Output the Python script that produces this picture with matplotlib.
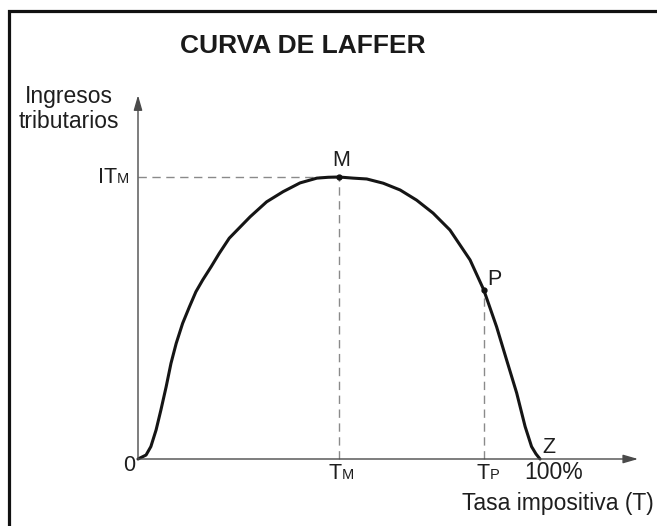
import matplotlib
matplotlib.use("Agg")
import matplotlib.pyplot as plt
from matplotlib.patches import Rectangle

plt.rcParams['font.family'] = ['Liberation Sans', 'DejaVu Sans']

# ---- data (tax rate in %, tax revenue with IT_M = 100) ----
tasa = [0, 2.0, 3.2, 4.5, 5.7, 7.0, 8.2, 9.5, 11.1, 12.8, 14.4, 16.1, 18.2,
        20.2, 22.7, 27.9, 32.0, 36.1, 40.3, 44.5, 47.3, 50.0, 53.5, 56.9,
        61.0, 65.2, 69.3, 73.4, 77.6, 82.6, 86.0, 89.2, 91.7, 94.2, 96.3,
        97.9, 99.0, 100.0]
ingresos = [0, 1.4, 4.4, 10.3, 17.4, 25.6, 33.9, 41.0, 48.1, 54.0, 59.3, 63.5,
            68.2, 72.9, 78.3, 85.9, 91.2, 94.8, 97.9, 99.6, 99.9, 100.0, 99.6,
            99.3, 97.8, 95.4, 91.8, 87.2, 81.2, 70.6, 60.0, 46.9, 35.1, 23.4,
            11.5, 4.4, 1.8, 0.0]
T_M, IT_M = 50.0, 100.0
T_P, IT_P = 86.0, 60.0
T_MAX = 100.0
X_END, Y_END = 124.4, 129.0

title = "CURVA DE LAFFER"
ylabel_lines = ["Ingresos", "tributarios"]
xlabel = "Tasa impositiva (T)"

# ---- figure geometry ----
W, H, DPI = 657, 526, 100
PX_X0, PX_Y0 = 138, 459
SX, SY = 4.02, 2.82

fig = plt.figure(figsize=(W / DPI, H / DPI), dpi=DPI)
ax = fig.add_axes([0, 0, 1, 1])
ax.set_xlim(-PX_X0 / SX, (W - PX_X0) / SX)
ax.set_ylim(-(H - PX_Y0) / SY, PX_Y0 / SY)
ax.axis('off')

def off(dx, dy):
    return (dx * 72 / DPI, dy * 72 / DPI)

TXT = '#1e1e1e'
AX_C = '#4a4a4a'
DASH_C = '#8a8a8a'
FS_BIG = 16.5
FS_LBL = 15.5
FS_SUB = 10.5

# border (only top and left visible)
fig.patches.append(Rectangle((9 / W, -0.5), 2.0, 1.5 - 11 / H,
                             transform=fig.transFigure, fill=False,
                             lw=2.3, ec='#111111', clip_on=False))

# axes with arrows
arrow = dict(arrowstyle='-|>,head_length=0.9,head_width=0.26', lw=1.0,
             color=AX_C, shrinkA=0, shrinkB=0, mutation_scale=10)
ax.annotate('', xy=(X_END, 0), xytext=(0, 0), arrowprops=arrow)
ax.annotate('', xy=(0, Y_END), xytext=(0, 0), arrowprops=arrow)

# dashed guides
dash = dict(color=DASH_C, lw=1.0, linestyle=(0, (6, 4)))
ax.plot([0, T_M], [IT_M, IT_M], **dash)
ax.plot([T_M, T_M], [0, IT_M], **dash)
ax.plot([T_P, T_P], [0, IT_P], **dash)

# curve
ax.plot(tasa, ingresos, color='#151515', lw=2.2, solid_joinstyle='round',
        solid_capstyle='round')
ax.plot([T_M, T_P], [IT_M, IT_P], 'o', color='#111111', ms=3.5)

# point labels
ax.annotate('M', xy=(T_M, IT_M), xytext=off(2.5, 10.5), textcoords='offset points',
            ha='center', va='baseline', fontsize=FS_LBL, color=TXT)
ax.annotate('P', xy=(T_P, IT_P), xytext=off(4, 5), textcoords='offset points',
            ha='left', va='baseline', fontsize=FS_LBL, color=TXT)
ax.annotate('Z', xy=(T_MAX, 0), xytext=off(2, 6), textcoords='offset points',
            ha='left', va='baseline', fontsize=FS_LBL, color=TXT)
ax.annotate('0', xy=(0, 0), xytext=off(-3, -12), textcoords='offset points',
            ha='right', va='baseline', fontsize=FS_LBL, color=TXT)

# IT_M
ax.annotate('IT', xy=(0, IT_M), xytext=off(-21, -6), textcoords='offset points',
            ha='right', va='baseline', fontsize=FS_LBL, color=TXT)
ax.annotate('M', xy=(0, IT_M), xytext=off(-21, -6), textcoords='offset points',
            ha='left', va='baseline', fontsize=FS_SUB, color=TXT)
# T_M
ax.annotate('T', xy=(T_M, 0), xytext=off(3, -20), textcoords='offset points',
            ha='right', va='baseline', fontsize=FS_LBL, color=TXT)
ax.annotate('M', xy=(T_M, 0), xytext=off(3, -20), textcoords='offset points',
            ha='left', va='baseline', fontsize=FS_SUB, color=TXT)
# T_P
ax.annotate('T', xy=(T_P, 0), xytext=off(6, -20), textcoords='offset points',
            ha='right', va='baseline', fontsize=FS_LBL, color=TXT)
ax.annotate('P', xy=(T_P, 0), xytext=off(6, -20), textcoords='offset points',
            ha='left', va='baseline', fontsize=FS_SUB, color=TXT)
# 100%
ax.annotate('100%', xy=(T_MAX, 0), xytext=off(-15.5, -20), textcoords='offset points',
            ha='left', va='baseline', fontsize=FS_BIG, color=TXT)
# x label
ax.annotate(xlabel, xy=(T_MAX, 0), xytext=off(114, -51), textcoords='offset points',
            ha='right', va='baseline', fontsize=FS_BIG, color=TXT)
# y label
ax.annotate(ylabel_lines[0], xy=(0, Y_END), xytext=off(-69, -8), textcoords='offset points',
            ha='center', va='baseline', fontsize=FS_BIG, color=TXT)
ax.annotate(ylabel_lines[1], xy=(0, Y_END), xytext=off(-69, -33), textcoords='offset points',
            ha='center', va='baseline', fontsize=FS_BIG, color=TXT)

# title
fig.text(303 / W, 1 - 53 / H, title, ha='center', va='baseline',
         fontsize=19, fontweight='bold', color='#1a1a1a')

fig.savefig('out.png', dpi=DPI)
